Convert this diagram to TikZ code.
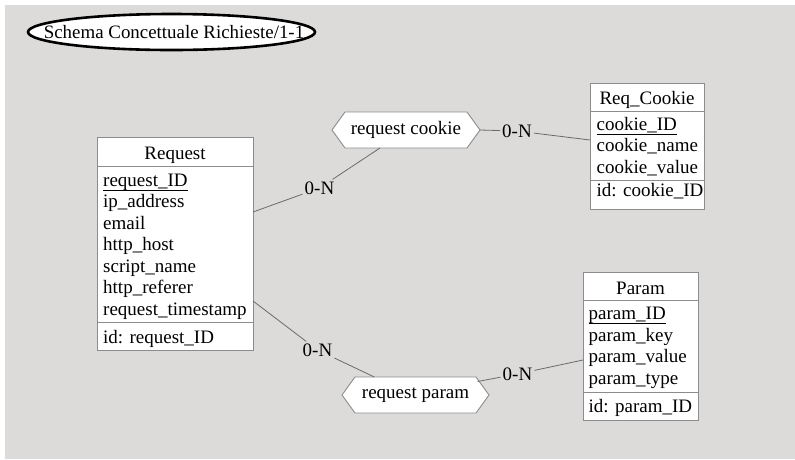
\documentclass[tikz,border=0pt]{standalone}
\usepackage{fontspec}
\setmainfont{Liberation Serif}
\usetikzlibrary{calc,shapes.geometric}
\definecolor{canvas}{HTML}{DCDBDA}
\definecolor{edge}{HTML}{8C8C8C}
\definecolor{wire}{HTML}{6A6A6A}
\newcommand{\txt}{\fontsize{19}{22}\selectfont}
\tikzset{
  entity/.style={draw=edge, fill=white, line width=0.9pt, inner sep=0pt, outer sep=0pt, anchor=north west},
  attr/.style={anchor=base west, inner sep=0pt, font=\txt},
  etitle/.style={anchor=base, inner sep=0pt, font=\txt},
  divider/.style={draw=edge, line width=0.9pt},
  idline/.style={draw=black, line width=0.8pt},
  relframe/.style={inner sep=0pt, outer sep=0pt, minimum height=36pt},
  hexa/.style={draw=edge, fill=white, line width=0.9pt},
  reltext/.style={inner sep=0pt, font=\txt},
  card/.style={fill=canvas, inner sep=2pt, font=\txt},
  link/.style={draw=wire, line width=0.8pt},
}
\begin{document}
\begin{tikzpicture}[x=1pt, y=-1pt]
  % canvas
  \useasboundingbox (0,0) rectangle (795,459);
  \fill[white] (0,0) rectangle (795,459);
  \fill[canvas] (5,5) rectangle (795,459);

  % schema title
  \node[ellipse, draw=black, line width=2.6pt, fill=white, minimum width=287pt, minimum height=36pt, inner sep=0pt] (title) at (171.5,32) {};
  \node[inner sep=0pt, font=\fontsize{18.9}{22}\selectfont] (titletext) at (174,32) {Schema Concettuale Richieste/1-1};

  % entity Request
  \node[entity, minimum width=156pt, minimum height=213pt] (req) at (97,137) {};
  \node[etitle] (req-t) at (175,159) {Request};
  \draw[divider] (97,166) -- (253,166);
  \node[attr] (req-a1) at (103,186) {request\_ID};
  \draw[idline] ($(req-a1.base west)+(0,4)$) -- ($(req-a1.base east)+(0,4)$);
  \node[attr] (req-a2) at (103,207.5) {ip\_address};
  \node[attr] (req-a3) at (103,229) {email};
  \node[attr] (req-a4) at (103,250.6) {http\_host};
  \node[attr] (req-a5) at (103,272.2) {script\_name};
  \node[attr] (req-a6) at (103,293.8) {http\_referer};
  \node[attr] (req-a7) at (103,315.3) {request\_timestamp};
  \draw[divider] (97,322) -- (253,322);
  \node[attr] (req-id) at (103,343) {id: request\_ID};

  % entity Req_Cookie
  \node[entity, minimum width=114pt, minimum height=126pt] (ck) at (590,83) {};
  \node[etitle] (ck-t) at (647,104) {Req\_Cookie};
  \draw[divider] (590,111) -- (704,111);
  \node[attr] (ck-a1) at (596.5,130) {cookie\_ID};
  \draw[idline] ($(ck-a1.base west)+(0,4)$) -- ($(ck-a1.base east)+(0,4)$);
  \node[attr] (ck-a2) at (596.5,151.6) {cookie\_name};
  \node[attr] (ck-a3) at (596.5,173.2) {cookie\_value};
  \draw[divider] (590,180.5) -- (704,180.5);
  \node[attr] (ck-id) at (596.5,196) {id: cookie\_ID};

  % entity Param
  \node[entity, minimum width=115pt, minimum height=148pt] (pm) at (583,272) {};
  \node[etitle] (pm-t) at (640.5,294.5) {Param};
  \draw[divider] (583,300) -- (698,300);
  \node[attr] (pm-a1) at (588.5,319.5) {param\_ID};
  \draw[idline] ($(pm-a1.base west)+(0,4)$) -- ($(pm-a1.base east)+(0,4)$);
  \node[attr] (pm-a2) at (588.5,341) {param\_key};
  \node[attr] (pm-a3) at (588.5,362.6) {param\_value};
  \node[attr] (pm-a4) at (588.5,384.2) {param\_type};
  \draw[divider] (583,392) -- (698,392);
  \node[attr] (pm-id) at (588.5,412) {id: param\_ID};

  % relationship request cookie
  \node[relframe, minimum width=148pt] (rc) at (406,130) {};
  \draw[hexa] (rc.west) -- ($(rc.north west)+(13,0)$) -- ($(rc.north east)+(-13,0)$)
     -- (rc.east) -- ($(rc.south east)+(-13,0)$) -- ($(rc.south west)+(13,0)$) -- cycle;
  \node[reltext] (rc-t) at (rc.center) {request cookie};

  % relationship request param
  \node[relframe, minimum width=147pt] (rp) at (415.5,395) {};
  \draw[hexa] (rp.west) -- ($(rp.north west)+(13,0)$) -- ($(rp.north east)+(-13,0)$)
     -- (rp.east) -- ($(rp.south east)+(-13,0)$) -- ($(rp.south west)+(13,0)$) -- cycle;
  \node[reltext] (rp-t) at (rp.center) {request param};

  % cardinality labels
  \node[card] (c1) at (319.5,188) {0-N};
  \node[card] (c2) at (517,131) {0-N};
  \node[card] (c3) at (317.5,350) {0-N};
  \node[card] (c4) at (517.5,374) {0-N};

  % role links
  \draw[link] ($(req.east)+(0,-31.5)$) -- (c1) -- ($(rc.south west)!0.324!(rc.south east)$);
  \draw[link] (rc.east) -- (c2) -- ($(ck.west)+(0,-6)$);
  \draw[link] ($(req.east)+(0,57.5)$) -- (c3) -- ($(rp.north west)!0.22!(rp.north east)$);
  \draw[link] ($(rp.north east)+(-11.5,4.5)$) -- (c4) -- ($(pm.west)+(0,14)$);
\end{tikzpicture}
\end{document}
